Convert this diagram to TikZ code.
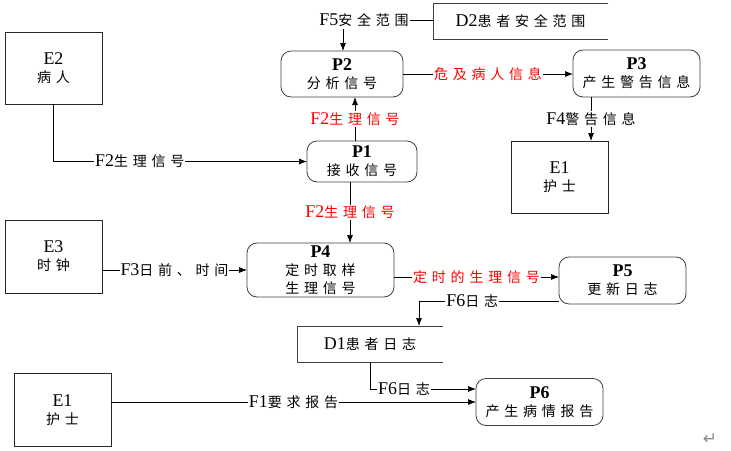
\documentclass[tikz,border=0pt]{standalone}
\usepackage{fontspec}
\setmainfont{Liberation Serif}[Scale=1.28]
\newfontfamily\zhfont{Noto Sans CJK SC}[LetterSpace=34]
\newfontfamily\symfont{DejaVu Sans}
\newcommand{\zh}[1]{{\zhfont #1}}
\usetikzlibrary{arrows.meta}

\begin{document}
\begin{tikzpicture}[x=1pt, y=-1pt, font=\fontsize{14}{18}\selectfont,
    ext/.style={draw=black!85, line width=0.8pt, minimum width=97pt, minimum height=72pt, align=center, outer sep=0pt},
    proc/.style={draw=black!75, line width=0.8pt, rounded corners=10pt, align=center, outer sep=0pt, inner sep=2pt},
    store/.style={minimum height=36pt, outer sep=0pt},
    flow/.style={line width=0.7pt, -{Latex[length=8pt,width=6pt]}},
    lab/.style={fill=white, inner sep=1pt},
    hot/.style={lab, text=red}]
\useasboundingbox (0,0) rectangle (731,450);

% external entities
\node[ext] (e2) at (53.5,68) {E2\\\zh{病人}};
\node[ext, minimum height=73pt] (e3) at (53.5,256.5) {E3\\\zh{时钟}};
\node[ext, minimum height=73pt] (e1b) at (62.5,410) {E1\\\zh{护士}};
\node[ext] (e1a) at (559.5,177) {E1\\\zh{护士}};

% processes
\node[proc, minimum width=122pt, minimum height=46pt] (p2) at (342,74) {\textbf{P2}\\\zh{分析信号}};
\node[proc, minimum width=127pt, minimum height=47pt] (p3) at (636.5,73.5) {\textbf{P3}\\\zh{产生警告信息}};
\node[proc, minimum width=110pt, minimum height=41pt, inner sep=1pt] (p1) at (362,161.5) {\textbf{P1}\\\zh{接收信号}};
\node[proc, minimum width=147pt, minimum height=54pt, inner sep=1pt] (p4) at (320.5,270) {\textbf{P4}\\\zh{定时取样}\\\zh{生理信号}};
\node[proc, minimum width=127pt, minimum height=47pt] (p5) at (622.5,280.5) {\textbf{P5}\\\zh{更新日志}};
\node[proc, minimum width=127pt, minimum height=47pt] (p6) at (539.5,402) {\textbf{P6}\\\zh{产生病情报告}};

% data stores
\node[store, minimum width=175pt] (d2) at (520.5,21) {D2\zh{患者安全范围}};
\draw[line width=0.8pt, black!75] (d2.north east) -- (d2.north west) -- (d2.south west) -- (d2.south east);
\node[store, minimum width=146pt] (d1) at (370,344) {D1\zh{患者日志}};
\draw[line width=0.8pt, black!75] (d1.north east) -- (d1.north west) -- (d1.south west) -- (d1.south east);

% flows
\node[lab] (f5) at (364,20) {F5\zh{安全范围}};
\draw[line width=0.7pt] (f5.east) -- (f5.east -| d2.west);
\coordinate (f5a) at (343,29);
\draw[flow] (f5a) -- (f5a |- p2.north);

\draw[flow] (e2.south) |- (p1.west) node[lab, pos=0.67] {F2\zh{生理信号}};
\draw[flow] ([xshift=-7pt]p1.north) -- ([xshift=-7pt]p1.north |- p2.south) node[hot, midway] {F2\zh{生理信号}};
\draw[flow] (p2.east) -- (p2.east -| p3.west) node[hot, midway] {\zh{危及病人信息}};
\draw[flow] ([xshift=18pt]p3.south west) -- ([xshift=18pt]p3.south west |- e1a.north) node[lab, midway] {F4\zh{警告信息}};
\draw[flow] ([xshift=-12pt]p1.south) -- ([xshift=-12pt]p1.south |- p4.north) node[hot, midway] {F2\zh{生理信号}};
\draw[flow] (e3.east |- p4.west) -- (p4.west) node[lab, midway] {F3\zh{日前、时间}};
\draw[flow] ([yshift=-7pt]p4.east) -- ([yshift=-7pt]p4.east -| p5.west) node[hot, midway] {\zh{定时的生理信号}};
\draw[flow] ([yshift=-20.5pt]p5.west) -| ([xshift=49pt]d1.north) node[lab, pos=0.31] {F6\zh{日志}};
\draw[flow] (d1.south) |- ([yshift=13pt]p6.west) node[lab, pos=0.66] {F6\zh{日志}};
\draw[flow] (e1b.east |- p6.west) -- (p6.west) node[lab, midway] {F1\zh{要求报告}};

\node[text=black!45, font=\fontsize{17}{17}\selectfont\symfont] (ret) at (710,439) {↵};
\end{tikzpicture}
\end{document}
